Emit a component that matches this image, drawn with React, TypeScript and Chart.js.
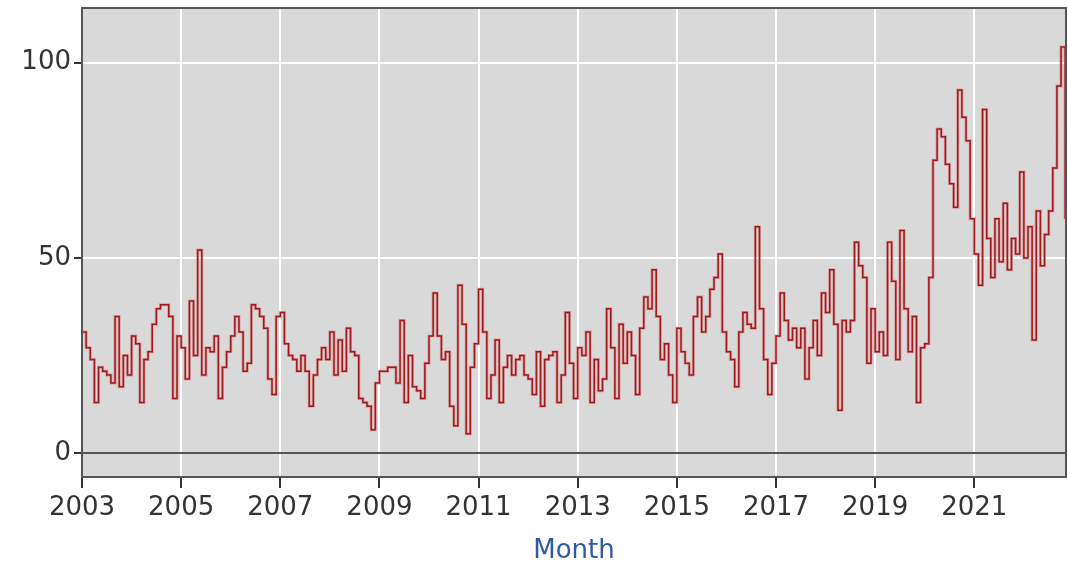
import React, { useEffect, useRef } from "react";
import { Chart, registerables } from "chart.js";

Chart.register(...registerables);

const START_YEAR = 2003;

// Monthly values, Jan 2003 .. Nov 2022
const v2003 = [31, 27, 24, 13, 22, 21, 20, 18, 35, 17, 25, 20];
const v2004 = [30, 28, 13, 24, 26, 33, 37, 38, 38, 35, 14, 30];
const v2005 = [27, 19, 39, 25, 52, 20, 27, 26, 30, 14, 22, 26];
const v2006 = [30, 35, 31, 21, 23, 38, 37, 35, 32, 19, 15, 35];
const v2007 = [36, 28, 25, 24, 21, 25, 21, 12, 20, 24, 27, 24];
const v2008 = [31, 20, 29, 21, 32, 26, 25, 14, 13, 12, 6, 18];
const v2009 = [21, 21, 22, 22, 18, 34, 13, 25, 17, 16, 14, 23];
const v2010 = [30, 41, 30, 24, 26, 12, 7, 43, 33, 5, 22, 28];
const v2011 = [42, 31, 14, 20, 29, 13, 22, 25, 20, 24, 25, 20];
const v2012 = [19, 15, 26, 12, 24, 25, 26, 13, 20, 36, 23, 14];
const v2013 = [27, 25, 31, 13, 24, 16, 19, 37, 27, 14, 33, 23];
const v2014 = [31, 25, 15, 32, 40, 37, 47, 35, 24, 28, 20, 13];
const v2015 = [32, 26, 23, 20, 35, 40, 31, 35, 42, 45, 51, 31];
const v2016 = [26, 24, 17, 31, 36, 33, 32, 58, 37, 24, 15, 23];
const v2017 = [30, 41, 34, 29, 32, 27, 32, 19, 27, 34, 25, 41];
const v2018 = [36, 47, 33, 11, 34, 31, 34, 54, 48, 45, 23, 37];
const v2019 = [26, 31, 25, 54, 44, 24, 57, 37, 26, 35, 13, 27];
const v2020 = [28, 45, 75, 83, 81, 74, 69, 63, 93, 86, 80, 60];
const v2021 = [51, 43, 88, 55, 45, 60, 49, 64, 47, 55, 51, 72];
const v2022 = [50, 58, 29, 62, 48, 56, 62, 73, 94, 104, 60];

const xTickYears = [2003, 2005, 2007, 2009, 2011, 2013, 2015, 2017, 2019, 2021];
const yTickValues = [0, 50, 100];
const xTitle = "Month";

export default function App() {
  const ref = useRef<HTMLCanvasElement | null>(null);

  useEffect(() => {
    document.body.style.margin = "0";
    const values = [
      ...v2003, ...v2004, ...v2005, ...v2006, ...v2007, ...v2008, ...v2009,
      ...v2010, ...v2011, ...v2012, ...v2013, ...v2014, ...v2015, ...v2016,
      ...v2017, ...v2018, ...v2019, ...v2020, ...v2021, ...v2022,
    ];
    const points = values.map((y, i) => ({ x: START_YEAR + i / 12, y }));

    const framePlugin = {
      id: "frame",
      beforeDraw(chart: any) {
        const { ctx, chartArea: a } = chart;
        ctx.save();
        ctx.fillStyle = "#d9d9d9";
        ctx.fillRect(a.left, a.top, a.right - a.left, a.bottom - a.top);
        ctx.restore();
      },
      afterDraw(chart: any) {
        const { ctx, chartArea: a } = chart;
        ctx.save();
        ctx.strokeStyle = "#555";
        ctx.lineWidth = 2;
        ctx.strokeRect(a.left, a.top, a.right - a.left, a.bottom - a.top);
        ctx.restore();
      },
    };

    const font = { family: "'DejaVu Sans', Verdana, sans-serif", size: 26 };

    const chart = new Chart(ref.current as HTMLCanvasElement, {
      type: "line",
      data: {
        datasets: [
          {
            data: points,
            stepped: true,
            borderColor: "rgba(205, 50, 50, 0.35)",
            borderWidth: 3,
            pointRadius: 0,
            fill: false,
          },
          {
            data: points,
            stepped: true,
            borderColor: "#8a0c10",
            borderWidth: 1.5,
            pointRadius: 0,
            fill: false,
          },
        ],
      },
      options: {
        animation: false,
        responsive: false,
        devicePixelRatio: 1,
        layout: { padding: { top: 8, right: 2, left: 0, bottom: 0 } },
        plugins: {
          legend: { display: false },
          tooltip: { enabled: false },
        },
        scales: {
          x: {
            type: "linear",
            min: 2003,
            max: 2022.85,
            afterBuildTicks: (s: any) => {
              s.ticks = xTickYears.map((v) => ({ value: v }));
            },
            afterFit: (s: any) => {
              s.height = 87;
              s.paddingRight = 0;
            },
            ticks: {
              callback: (v: any) => String(v),
              font,
              color: "#333",
              padding: 5,
              maxRotation: 0,
              autoSkip: false,
            },
            grid: {
              color: "#ffffff",
              lineWidth: 2,
              tickColor: "#333",
              tickLength: 11,
              drawTicks: true,
            },
            border: { color: "#333", width: 2 },
            title: {
              display: true,
              text: xTitle,
              color: "#2f5aa0",
              font: { family: "'DejaVu Sans', Verdana, sans-serif", size: 26, lineHeight: 1 },
              padding: { top: 0, bottom: 0 },
            },
          },
          y: {
            type: "linear",
            min: -6.1,
            max: 114,
            afterBuildTicks: (s: any) => {
              s.ticks = yTickValues.map((v) => ({ value: v }));
            },
            afterFit: (s: any) => {
              s.width = 82;
              s.paddingTop = 0;
              s.paddingBottom = 0;
            },
            ticks: {
              font,
              color: "#333",
              padding: 3,
            },
            grid: {
              color: (c: any) => (c.tick && c.tick.value === 0 ? "#555" : "#ffffff"),
              lineWidth: 2,
              tickColor: "#333",
              tickLength: 8,
            },
            border: { color: "#333", width: 2 },
          },
        },
      },
      plugins: [framePlugin],
    } as any);

    return () => chart.destroy();
  }, []);

  return (
    <div style={{ width: 1068, height: 564 }}>
      <canvas ref={ref} width={1068} height={564} style={{ display: "block" }} />
    </div>
  );
}
